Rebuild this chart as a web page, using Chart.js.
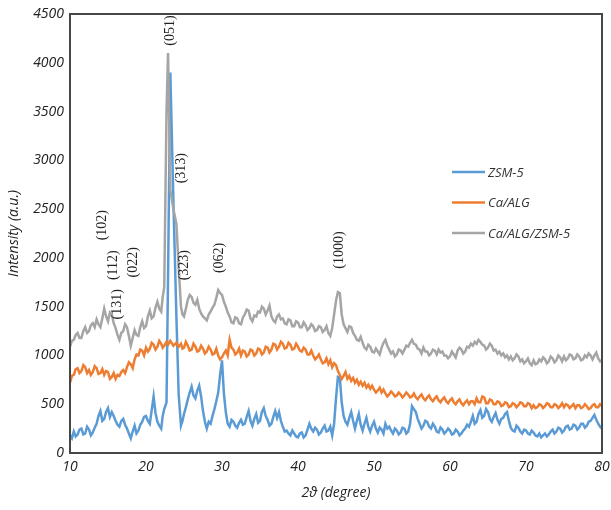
<!DOCTYPE html>
<html>
<head>
<meta charset="utf-8">
<script src="https://cdn.jsdelivr.net/npm/chart.js@4.4.0/dist/chart.umd.min.js"></script>
<style>
  html, body { margin: 0; padding: 0; background: #fff; }
</style>
</head>
<body>
<canvas id="xrd" width="611" height="510"></canvas>
<script>
// 2θ positions (degree); finer steps around the main peak
const angles = [
  10, 10.25, 10.5, 10.75, 11, 11.25, 11.5, 11.75, 12, 12.25, 12.5, 12.75,
  13, 13.25, 13.5, 13.75, 14, 14.25, 14.5, 14.75, 15, 15.25, 15.5, 15.75,
  16, 16.25, 16.5, 16.75, 17, 17.25, 17.5, 17.75, 18, 18.25, 18.5, 18.75,
  19, 19.25, 19.5, 19.75, 20, 20.25, 20.5, 20.75, 21, 21.25, 21.5, 21.75,
  22,
  22.2, 22.4, 22.7, 22.9, 23.2, 23.6, 24.0, 24.3, 24.6, 24.8,
  25, 25.25, 25.5, 25.75, 26, 26.25, 26.5, 26.75, 27, 27.25, 27.5, 27.75,
  28, 28.25, 28.5, 28.75, 29, 29.25, 29.5, 29.75, 30, 30.25, 30.5, 30.75,
  31, 31.25, 31.5, 31.75, 32, 32.25, 32.5, 32.75, 33, 33.25, 33.5, 33.75,
  34, 34.25, 34.5, 34.75, 35, 35.25, 35.5, 35.75, 36, 36.25, 36.5, 36.75,
  37, 37.25, 37.5, 37.75, 38, 38.25, 38.5, 38.75, 39, 39.25, 39.5, 39.75,
  40, 40.25, 40.5, 40.75, 41, 41.25, 41.5, 41.75, 42, 42.25, 42.5, 42.75,
  43, 43.25, 43.5, 43.75, 44, 44.25, 44.5, 44.75, 45, 45.25, 45.5, 45.75,
  46, 46.25, 46.5, 46.75, 47, 47.25, 47.5, 47.75, 48, 48.25, 48.5, 48.75,
  49, 49.25, 49.5, 49.75, 50, 50.25, 50.5, 50.75, 51, 51.25, 51.5, 51.75,
  52, 52.25, 52.5, 52.75, 53, 53.25, 53.5, 53.75, 54, 54.25, 54.5, 54.75,
  55, 55.25, 55.5, 55.75, 56, 56.25, 56.5, 56.75, 57, 57.25, 57.5, 57.75,
  58, 58.25, 58.5, 58.75, 59, 59.25, 59.5, 59.75, 60, 60.25, 60.5, 60.75,
  61, 61.25, 61.5, 61.75, 62, 62.25, 62.5, 62.75, 63, 63.25, 63.5, 63.75,
  64, 64.25, 64.5, 64.75, 65, 65.25, 65.5, 65.75, 66, 66.25, 66.5, 66.75,
  67, 67.25, 67.5, 67.75, 68, 68.25, 68.5, 68.75, 69, 69.25, 69.5, 69.75,
  70, 70.25, 70.5, 70.75, 71, 71.25, 71.5, 71.75, 72, 72.25, 72.5, 72.75,
  73, 73.25, 73.5, 73.75, 74, 74.25, 74.5, 74.75, 75, 75.25, 75.5, 75.75,
  76, 76.25, 76.5, 76.75, 77, 77.25, 77.5, 77.75, 78, 78.25, 78.5, 78.75,
  79, 79.25, 79.5, 79.75,
  80
]

const zsm5 = [
  180, 150, 220, 170, 190, 240, 250, 190, 200, 270, 240, 180,
  210, 260, 300, 380, 430, 330, 350, 420, 460, 370, 420, 380,
  330, 290, 270, 330, 350, 290, 250, 200, 150, 220, 280, 200,
  230, 290, 320, 370, 380, 330, 300, 440, 580, 410, 320, 280,
  250,
  380, 450, 520, 1800, 3900, 2600, 1400, 600, 280, 330,
  400, 470, 550, 620, 680, 590, 560, 640, 690, 580, 430, 320,
  250, 320, 300, 380, 450, 530, 620, 800, 950, 610, 420, 300,
  270, 340, 320, 280, 260, 310, 340, 290, 300, 370, 430, 330,
  280, 350, 400, 310, 330, 420, 460, 380, 340, 280, 300, 370,
  430, 360, 420, 330, 270, 220, 230, 200, 180, 230, 200, 170,
  160, 200, 210, 160, 180, 240, 300, 250, 220, 260, 240, 190,
  210, 250, 280, 220, 230, 270, 180, 300, 560, 780, 770, 520,
  380, 320, 290, 360, 420, 330, 250, 330, 400, 290, 230, 300,
  360, 270, 220, 280, 320, 250, 210, 260, 240, 200, 300, 250,
  270, 230, 200, 250, 230, 190, 210, 260, 250, 200, 220, 300,
  480, 450, 420, 350, 300, 250, 280, 330, 320, 270, 250, 300,
  270, 220, 210, 260, 240, 200, 220, 250, 230, 190, 200, 240,
  220, 180, 200, 230, 250, 290, 270, 320, 380, 300, 320, 400,
  440, 360, 380, 450, 420, 350, 320, 370, 410, 340, 300, 350,
  360, 400, 420, 330, 260, 230, 220, 280, 260, 220, 200, 240,
  230, 200, 190, 230, 210, 180, 170, 200, 160, 180, 200, 170,
  190, 220, 240, 200, 220, 260, 250, 210, 230, 270, 280, 240,
  250, 290, 280, 240, 260, 300, 300, 260, 280, 320, 330, 360,
  390, 340, 300, 270,
  250
]

const caAlg = [
  720, 790, 800, 860, 870, 820, 840, 900, 880, 820, 850, 800,
  830, 890, 870, 810, 820, 860, 800, 840, 830, 760, 780, 820,
  760, 800, 790, 830, 850, 820, 880, 930, 910, 870, 960, 1010,
  1000, 1060, 1050, 1000, 1080, 1040, 1070, 1130, 1110, 1060, 1090, 1150,
  1120,
  1080, 1100, 1140, 1110, 1150, 1100, 1130, 1090, 1120, 1070,
  1080, 1140, 1100, 1050, 1060, 1120, 1090, 1040, 1050, 1100, 1070, 1020,
  1040, 1090, 1060, 1010, 1020, 1070, 1000, 960, 980, 1020, 1050, 1000,
  1160, 1080, 1060, 1010, 1030, 1070, 1000, 1050, 1040, 990, 1010, 1060,
  1050, 1000, 1020, 1070, 1060, 1010, 1030, 1090, 1080, 1030, 1060, 1120,
  1110, 1060, 1090, 1140, 1120, 1070, 1080, 1130, 1110, 1060, 1070, 1120,
  1090, 1050, 1040, 1080, 1060, 1010, 1010, 1050, 1000, 960, 980, 1010,
  960, 920, 930, 970, 910, 950, 880, 920, 900, 840, 800, 760,
  790, 830, 760, 790, 740, 770, 720, 750, 700, 730, 690, 720,
  670, 700, 660, 690, 650, 620, 640, 670, 620, 650, 610, 580,
  600, 630, 610, 580, 590, 620, 600, 570, 590, 620, 600, 570,
  580, 610, 570, 550, 580, 600, 560, 540, 570, 590, 550, 530,
  560, 580, 540, 520, 550, 570, 530, 510, 540, 560, 520, 500,
  530, 550, 510, 490, 520, 540, 500, 530, 530, 500, 560, 520,
  520, 580, 570, 510, 510, 550, 540, 500, 500, 530, 520, 480,
  490, 520, 510, 470, 480, 510, 500, 470, 490, 520, 510, 480,
  480, 510, 500, 460, 490, 460, 470, 500, 490, 460, 480, 510,
  500, 470, 470, 500, 490, 460, 480, 510, 470, 500, 490, 460,
  480, 500, 460, 490, 490, 460, 470, 500, 480, 450, 460, 490,
  500, 470, 470, 500,
  480
]

const caAlgZsm5 = [
  1090, 1150, 1160, 1210, 1230, 1180, 1180, 1250, 1290, 1230, 1250, 1310,
  1330, 1290, 1370, 1320, 1290, 1380, 1480, 1400, 1350, 1440, 1420, 1330,
  1280, 1210, 1160, 1230, 1250, 1320, 1290, 1200, 1100, 1180, 1260, 1210,
  1200, 1290, 1350, 1280, 1300, 1400, 1460, 1380, 1400, 1490, 1550, 1480,
  1450,
  1600, 1700, 3500, 4100, 2700, 2500, 2350, 1900, 1500, 1420,
  1400, 1480, 1570, 1620, 1600, 1540, 1520, 1570, 1480, 1430, 1400, 1380,
  1360, 1420, 1450, 1490, 1520, 1590, 1670, 1640, 1620, 1550, 1500, 1440,
  1400, 1340, 1330, 1390, 1380, 1330, 1320, 1390, 1420, 1470, 1460, 1380,
  1350, 1410, 1400, 1450, 1440, 1500, 1480, 1420, 1460, 1510, 1400, 1360,
  1340, 1400, 1420, 1370, 1380, 1330, 1320, 1370, 1360, 1300, 1300, 1350,
  1340, 1290, 1290, 1340, 1310, 1260, 1280, 1320, 1300, 1250, 1260, 1300,
  1290, 1240, 1260, 1300, 1230, 1200, 1280, 1420, 1560, 1650, 1640, 1420,
  1320, 1280, 1240, 1300, 1290, 1230, 1200, 1160, 1150, 1190, 1130, 1080,
  1060, 1110, 1090, 1040, 1030, 1070, 1040, 1010, 1080, 1130, 1160, 1100,
  1060, 1020, 1040, 990, 1010, 1060, 1050, 1020, 1060, 1100, 1090, 1130,
  1160, 1120, 1110, 1070, 1060, 1020, 1080, 1040, 1040, 1000, 1020, 1060,
  1050, 1010, 1060, 1030, 1040, 1000, 1000, 970, 990, 1040, 1010, 980,
  1050, 1080, 1060, 1020, 1040, 1090, 1080, 1120, 1100, 1140, 1120, 1160,
  1140, 1110, 1100, 1060, 1080, 1120, 1100, 1050, 1060, 1020, 1040, 1000,
  1020, 980, 1000, 960, 990, 950, 970, 1010, 990, 940, 960, 920,
  940, 970, 920, 900, 950, 910, 920, 960, 940, 980, 960, 920,
  940, 990, 970, 930, 950, 1000, 980, 940, 990, 950, 970, 1010,
  1000, 960, 970, 1010, 990, 950, 960, 1000, 980, 1020, 1000, 960,
  1000, 1030, 970, 940,
  950
]

// Miller indices written next to the peaks (centre of each label, in data units)
const peakNames = ['(102)', '(112)', '(131)', '(022)', '(051)', '(313)', '(323)', '(062)', '(1000)']
const peakAngles = [14.3, 15.7, 16.2, 18.3, 23.2, 24.6, 25.1, 29.7, 45.4]
const peakHeights = [2335, 1925, 1525, 1955, 4330, 2920, 1925, 2000, 2080]

const seriesNames = ['ZSM-5', 'Ca/ALG', 'Ca/ALG/ZSM-5']
const seriesColors = ['#5b9bd5', '#ed7d31', '#a5a5a5']
const seriesValues = [zsm5, caAlg, caAlgZsm5]

const uiFont = '"Open Sans", "Liberation Sans", sans-serif'

// marco, etiquetas de picos y leyenda
const decor = {
  id: 'decor',
  afterDraw (chart) {
    const { ctx, chartArea: a, scales: { x, y } } = chart
    ctx.save()
    ctx.strokeStyle = '#474747'
    ctx.lineWidth = 2
    ctx.beginPath()
    ctx.moveTo(a.left, a.top)
    ctx.lineTo(a.right, a.top)
    ctx.lineTo(a.right, a.bottom)
    ctx.lineTo(a.left, a.bottom)
    ctx.closePath()
    ctx.stroke()

    ctx.fillStyle = '#222'
    ctx.font = '14px "Liberation Serif", serif'
    ctx.textAlign = 'center'
    ctx.textBaseline = 'middle'
    peakNames.forEach((name, i) => {
      ctx.save()
      ctx.translate(x.getPixelForValue(peakAngles[i]), y.getPixelForValue(peakHeights[i]))
      ctx.rotate(-Math.PI / 2)
      ctx.fillText(name, 0, 0)
      ctx.restore()
    })

    ctx.font = 'italic 13px ' + uiFont
    ctx.textAlign = 'left'
    ctx.fillStyle = '#333'
    ctx.lineWidth = 2.5
    seriesNames.forEach((name, i) => {
      const ly = a.top + 158 + i * 30.5
      ctx.strokeStyle = seriesColors[i]
      ctx.beginPath()
      ctx.moveTo(a.right - 150, ly)
      ctx.lineTo(a.right - 117, ly)
      ctx.stroke()
      ctx.fillText(name, a.right - 114, ly + 1)
    })
    ctx.restore()
  }
}

const datasets = seriesNames.map((name, i) => ({
  label: name,
  data: angles.map((a, j) => ({ x: a, y: seriesValues[i][j] })),
  borderColor: seriesColors[i],
  backgroundColor: seriesColors[i],
  borderWidth: 2.5,
  pointRadius: 0,
  tension: 0,
  order: 3 - i
}))

const tickFont = { family: uiFont, size: 14, style: 'italic' }

new Chart(document.getElementById('xrd'), {
  type: 'line',
  data: { datasets },
  options: {
    responsive: false,
    animation: false,
    layout: { padding: { top: 14, right: 9, left: 0, bottom: 0 } },
    plugins: { legend: { display: false }, tooltip: { enabled: false } },
    scales: {
      x: {
        type: 'linear',
        min: 10,
        max: 80,
        grid: { display: false, drawTicks: false },
        border: { display: false },
        ticks: { stepSize: 10, color: '#222', font: tickFont, padding: 6 },
        title: { display: true, text: '2ϑ (degree)', color: '#222', font: tickFont, padding: { top: 0, bottom: 8.6 } },
        afterFit (scale) {
          scale.height = 57
          scale.paddingLeft = 0
          scale.paddingRight = 0
        }
      },
      y: {
        min: 0,
        max: 4500,
        grid: { display: false, drawTicks: false },
        border: { display: false },
        ticks: { stepSize: 500, color: '#222', font: tickFont, padding: 6, callback: (v) => String(v) },
        title: { display: true, text: 'Intensity (a.u.)', color: '#222', font: tickFont, padding: { top: 5.6, bottom: 0 } },
        afterFit (scale) {
          scale.width = 70
          scale.paddingTop = 0
          scale.paddingBottom = 0
        }
      }
    }
  },
  plugins: [decor]
})
</script>
</body>
</html>
